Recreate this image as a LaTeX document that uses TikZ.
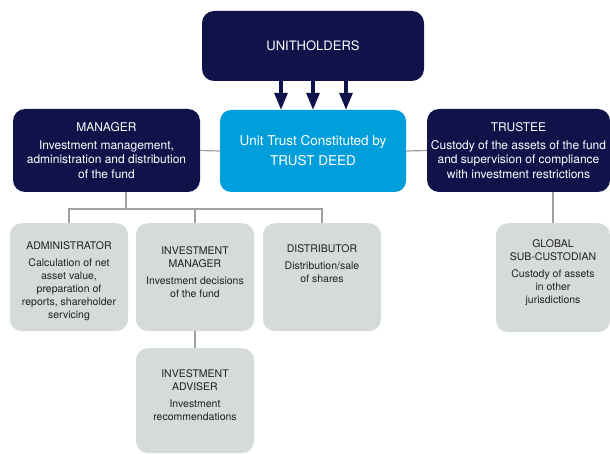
\documentclass[tikz,border=0pt]{standalone}
\usepackage{fontspec}
\setmainfont{TeX Gyre Heros}
\usetikzlibrary{arrows.meta}

\definecolor{navy}{RGB}{16,19,74}
\definecolor{trustblue}{RGB}{0,158,218}
\definecolor{boxgray}{RGB}{212,219,216}
\definecolor{linkgray}{RGB}{160,160,160}
\definecolor{inkgray}{RGB}{35,31,32}

% text of a grey box: width, height, top gap, content
\newcommand{\cardtext}[4]{\parbox[c][#2][t]{#1}{\centering\vspace*{#3}#4}}

\tikzset{
  party/.style={fill=navy, text=white, rounded corners=12pt, align=center, inner sep=0pt,
    font=\fontsize{12}{14.5}\selectfont},
  trustbox/.style={fill=trustblue, text=white, rounded corners=11pt, align=center, inner sep=0pt,
    font=\fontsize{13.5}{20}\selectfont},
  agent/.style={fill=boxgray, text=inkgray, rounded corners=12pt, inner sep=0pt,
    font=\fontsize{10.5}{13}\selectfont},
  link/.style={draw=linkgray, line width=1.2pt},
  flow/.style={draw=navy, line width=3.2pt, -{Triangle[width=13pt,length=17pt]}}
}

\begin{document}
\begin{tikzpicture}[x=1pt, y=-1pt]
    \useasboundingbox (0,0) rectangle (610,454);
    \node[party, minimum width=222pt, minimum height=70pt, font=\fontsize{13}{16}\selectfont] at (313,46) (unitholders) {UNITHOLDERS};
    \node[trustbox, minimum width=186pt, minimum height=82pt] at (313,151) (trust) {Unit Trust Constituted by\\TRUST DEED};
    \node[party, minimum width=187pt, minimum height=83pt] at (106.5,150.5) (manager) {MANAGER\\[3.5pt]Investment management,\\administration and distribution\\of the fund};
    \node[party, minimum width=183pt, minimum height=83pt] at (518.5,150.5) (trustee) {TRUSTEE\\[3.5pt]Custody of the assets of the fund\\and supervision of compliance\\with investment restrictions};

    \node[agent, anchor=north] at (69,223) (admin) {\cardtext{118pt}{108pt}{18pt}{ADMINISTRATOR\par\vspace{4pt}Calculation of net\\asset value,\\preparation of\\reports, shareholder\\servicing}};
    \node[agent, anchor=north] at (195,223) (invmgr) {\cardtext{118pt}{108pt}{23pt}{INVESTMENT\\MANAGER\par\vspace{4pt}Investment decisions\\of the fund}};
    \node[agent, anchor=north] at (322,223) (distributor) {\cardtext{118pt}{108pt}{21pt}{DISTRIBUTOR\par\vspace{4pt}Distribution/sale\\of shares}};
    \node[agent, anchor=north] at (195,348) (adviser) {\cardtext{118pt}{105pt}{21pt}{INVESTMENT\\ADVISER\par\vspace{4pt}Investment\\recommendations}};
    \node[agent, anchor=north] at (553,223) (subcustodian) {\cardtext{114pt}{109pt}{16pt}{GLOBAL\\SUB-CUSTODIAN\par\vspace{4pt}Custody of assets\\in other\\jurisdictions}};

    \draw[flow] ([xshift=-32pt]unitholders.south) -- ([xshift=-32pt]trust.north);
    \draw[flow] (unitholders.south) -- (trust.north);
    \draw[flow] ([xshift=33pt]unitholders.south) -- ([xshift=33pt]trust.north);

    \draw[link] (manager.east) -- (trust.west);
    \draw[link] (trust.east) -- (trustee.west);
    \coordinate (fork) at (126,209);
    \draw[link] (manager.south -| fork) -- (fork);
    \draw[link] (admin.north) |- (fork) -| (distributor.north);
    \draw[link] (invmgr.north) -- (invmgr.north |- fork);
    \draw[link] (invmgr.south) -- (adviser.north);
    \draw[link] (subcustodian.north) -- (subcustodian.north |- trustee.south);
\end{tikzpicture}
\end{document}
